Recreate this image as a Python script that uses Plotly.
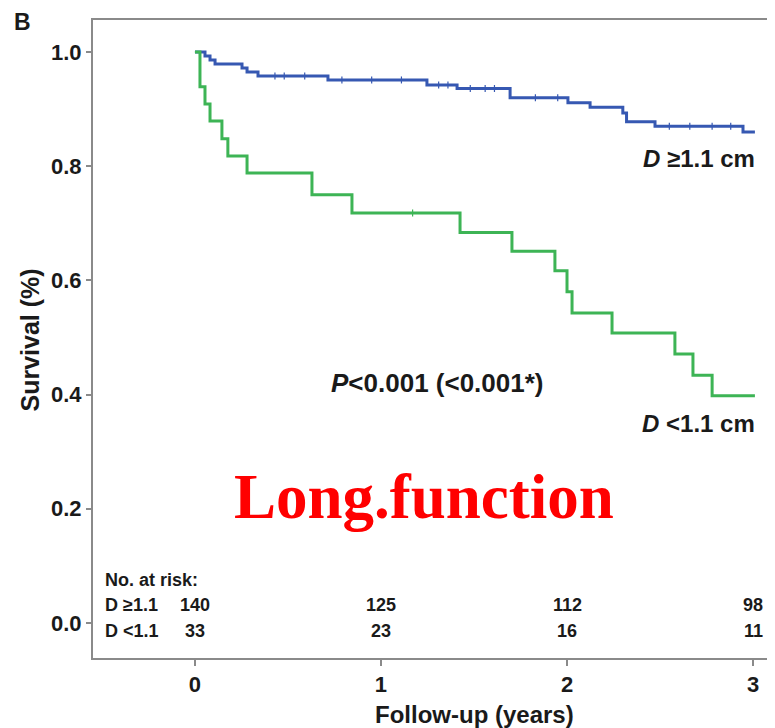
import plotly.graph_objects as go

# Kaplan-Meier step data
blue_times = [0, 0.054, 0.081, 0.108, 0.253, 0.28, 0.339, 0.715, 1.247, 1.409, 1.694,
              2.005, 2.124, 2.30, 2.32, 2.473, 2.946, 3.01]
blue_surv = [1.0, 0.993, 0.986, 0.979, 0.972, 0.965, 0.958, 0.951, 0.942, 0.936, 0.920,
             0.911, 0.903, 0.893, 0.878, 0.870, 0.860, 0.860]
blue_censor = [0.43, 0.48, 0.59, 0.79, 0.95, 1.11, 1.31, 1.36, 1.48, 1.56, 1.61, 1.83,
               1.95, 2.55, 2.66, 2.78, 2.88]

green_times = [0, 0.027, 0.054, 0.081, 0.145, 0.177, 0.28, 0.629, 0.844, 1.425, 1.704,
               1.935, 2.0, 2.027, 2.242, 2.58, 2.677, 2.78, 3.01]
green_surv = [1.0, 0.939, 0.909, 0.879, 0.848, 0.818, 0.788, 0.750, 0.718, 0.684, 0.651,
              0.617, 0.580, 0.543, 0.508, 0.471, 0.434, 0.398, 0.398]
green_censor = [1.17]

risk_times = [0, 1, 2, 3]
risk_labels = ["D \u22651.1", "D <1.1"]
risk_high = [140, 125, 112, 98]
risk_low = [33, 23, 16, 11]

x_ticks = [0, 1, 2, 3]
y_ticks = [0.0, 0.2, 0.4, 0.6, 0.8, 1.0]

BLUE = "#3658b2"
GREEN = "#3db455"
FRAME = "#8a8a8a"
TXT = "#1a1a1a"
FONT = "Liberation Sans"


def step_value(times, surv, t):
    v = surv[0]
    for ti, si in zip(times, surv):
        if ti <= t:
            v = si
    return v


fig = go.Figure()
fig.add_trace(go.Scatter(x=blue_times, y=blue_surv, mode="lines", line=dict(color=BLUE, width=3, shape="hv"),
                         showlegend=False, hoverinfo="skip"))
fig.add_trace(go.Scatter(x=green_times, y=green_surv, mode="lines", line=dict(color=GREEN, width=3, shape="hv"),
                         showlegend=False, hoverinfo="skip"))
fig.add_trace(go.Scatter(x=blue_censor, y=[step_value(blue_times, blue_surv, t) for t in blue_censor],
                         mode="markers", marker=dict(symbol="line-ns", size=5, line=dict(color=BLUE, width=1.2)),
                         showlegend=False, hoverinfo="skip"))
fig.add_trace(go.Scatter(x=green_censor, y=[step_value(green_times, green_surv, t) for t in green_censor],
                         mode="markers", marker=dict(symbol="line-ns", size=5, line=dict(color=GREEN, width=1.2)),
                         showlegend=False, hoverinfo="skip"))

ann = []
ann.append(dict(x=3.022, y=0.814, xref="x", yref="y", text="<b><i>D</i> \u22651.1 cm</b>",
                showarrow=False, xanchor="right", yanchor="middle", font=dict(family=FONT, size=24, color=TXT)))
ann.append(dict(x=3.022, y=0.349, xref="x", yref="y", text="<b><i>D</i> <1.1 cm</b>",
                showarrow=False, xanchor="right", yanchor="middle", font=dict(family=FONT, size=24, color=TXT)))
ann.append(dict(x=1.306, y=0.42, xref="x", yref="y", text="<b><i>P</i><0.001 (<0.001*)</b>",
                showarrow=False, xanchor="center", yanchor="middle", font=dict(family=FONT, size=26, color=TXT)))
ann.append(dict(x=1.231, y=0.221, xref="x", yref="y", text="<b>Long.function</b>",
                showarrow=False, xanchor="center", yanchor="middle",
                font=dict(family="Liberation Serif", size=63, color="#ff0000")))

# risk table
risk_font = dict(family=FONT, size=18, color=TXT)
ann.append(dict(x=-0.495, y=0.075, xref="x", yref="y", text="<b>No. at risk:</b>",
                showarrow=False, xanchor="left", yanchor="middle", font=risk_font))
for row_y, lab, vals in [(0.0315, risk_labels[0], risk_high), (-0.014, risk_labels[1], risk_low)]:
    ann.append(dict(x=-0.495, y=row_y, xref="x", yref="y", text=f"<b>{lab}</b>",
                    showarrow=False, xanchor="left", yanchor="middle", font=risk_font))
    for t, v in zip(risk_times, vals):
        ann.append(dict(x=t, y=row_y, xref="x", yref="y", text=f"<b>{v}</b>",
                        showarrow=False, xanchor="center", yanchor="middle", font=risk_font))

# titles
ann.append(dict(x=1.505, y=-0.089, xref="x", yref="paper", text="<b>Follow-up (years)</b>",
                showarrow=False, xanchor="center", yanchor="middle", font=dict(family=FONT, size=24, color=TXT)))
ann.append(dict(x=-0.092, y=0.498, xref="paper", yref="paper", text="<b>Survival (%)</b>", textangle=-90,
                showarrow=False, xanchor="center", yanchor="middle", font=dict(family=FONT, size=25, color=TXT)))
ann.append(dict(x=-0.104, y=0.997, xref="paper", yref="paper", text="<b>B</b>",
                showarrow=False, xanchor="center", yanchor="middle", font=dict(family=FONT, size=23, color=TXT)))

fig.update_layout(
    width=767, height=720,
    margin=dict(l=85, r=0, t=12, b=70),
    plot_bgcolor="white", paper_bgcolor="white",
    annotations=ann,
    showlegend=False,
)
fig.update_xaxes(range=[-0.548, 3.118], tickvals=x_ticks, ticktext=[f"<b>{v}</b>" for v in x_ticks],
                 showline=True, linecolor=FRAME, linewidth=2, mirror=True,
                 ticks="outside", ticklen=6, tickcolor=FRAME, tickwidth=1.5,
                 showgrid=False, zeroline=False,
                 tickfont=dict(family=FONT, size=22, color=TXT))
fig.update_yaxes(range=[-0.0613, 1.056], tickvals=y_ticks, ticktext=[f"<b>{v:.1f}</b>" for v in y_ticks],
                 showline=True, linecolor=FRAME, linewidth=2, mirror=False,
                 ticks="outside", ticklen=5, tickcolor=FRAME, tickwidth=1.5,
                 showgrid=False, zeroline=False,
                 tickfont=dict(family=FONT, size=22, color=TXT))

fig.write_html("out.html")
